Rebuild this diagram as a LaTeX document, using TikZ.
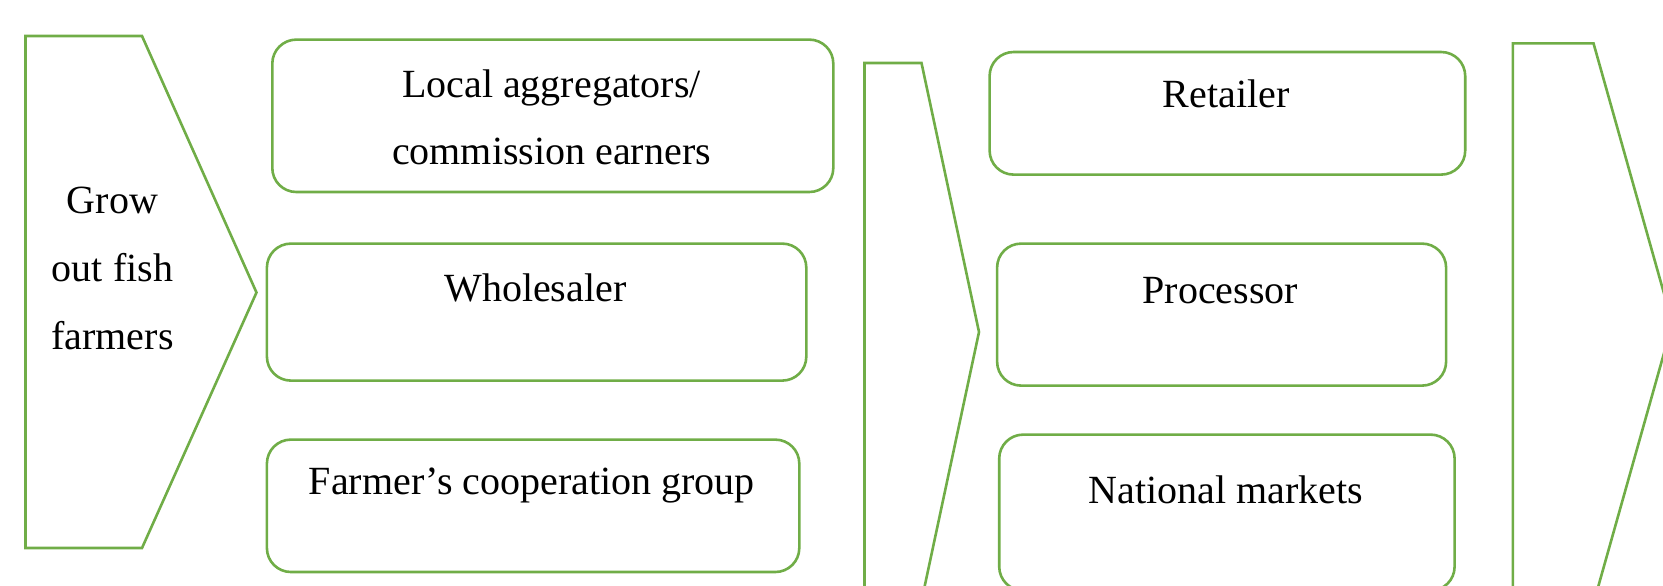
\documentclass[tikz,border=0pt]{standalone}
\usepackage{fontspec}
\setmainfont{Liberation Serif}
\definecolor{lgreen}{HTML}{70AD47}
\tikzset{
  shape line/.style={draw=lgreen, line width=1.3pt, line join=miter},
  boxnode/.style={draw=lgreen, line width=1.3pt, rounded corners=12pt, rectangle, anchor=north west, inner sep=0pt},
  label text/.style={font=\fontsize{20pt}{24pt}\selectfont, anchor=base, inner sep=0pt, text=black}
}
\begin{document}
\begin{tikzpicture}[x=0.5pt,y=-0.5pt]
\useasboundingbox (0,0) rectangle (1663,585);
\clip (0,0) rectangle (1663,585);
% chevrons
\draw[shape line] (25.5,36) -- (142,36) -- (256.5,292.5) -- (142,548) -- (25.5,548) -- cycle;
\draw[shape line] (864.5,63) -- (921.5,63) -- (979,332) -- (921.5,601) -- (864.5,601) -- cycle;
\draw[shape line] (1512.8,43.3) -- (1593.5,43.3) -- (1672.4,323.3) -- (1593.5,603.3) -- (1512.8,603.3) -- cycle;
% boxes
\node[boxnode, minimum width=280.5pt, minimum height=76.2pt] (b1) at (271,38.3) {};
\node[boxnode, minimum width=269.7pt, minimum height=68.5pt] (b2) at (265.6,242.3) {};
\node[boxnode, minimum width=266.2pt, minimum height=66.2pt] (b3) at (265.6,438.3) {};
\node[boxnode, minimum width=237.8pt, minimum height=61.3pt] (b4) at (988.3,50.7) {};
\node[boxnode, minimum width=224.5pt, minimum height=71pt] (b5) at (995.8,242.3) {};
\node[boxnode, minimum width=227.7pt, minimum height=78pt] (b6) at (997.9,433.3) {};
% texts
\node[label text] (g1) at (112.5,213) {Grow};
\node[label text] (g2) at (112.5,281.5) {out fish};
\node[label text] (g3) at (112.5,349) {farmers};
\node[label text] (t1a) at (551.5,97.5) {Local aggregators/};
\node[label text] (t1b) at (551.5,164) {commission earners};
\node[label text] (t2) at (535.3,301.5) {Wholesaler};
\node[label text] (t3) at (531.8,494) {Farmer’s cooperation group};
\node[label text] (t4) at (1226,107.5) {Retailer};
\node[label text] (t5) at (1220.3,303.5) {Processor};
\node[label text] (t6) at (1225.6,503.5) {National markets};
\end{tikzpicture}
\end{document}
